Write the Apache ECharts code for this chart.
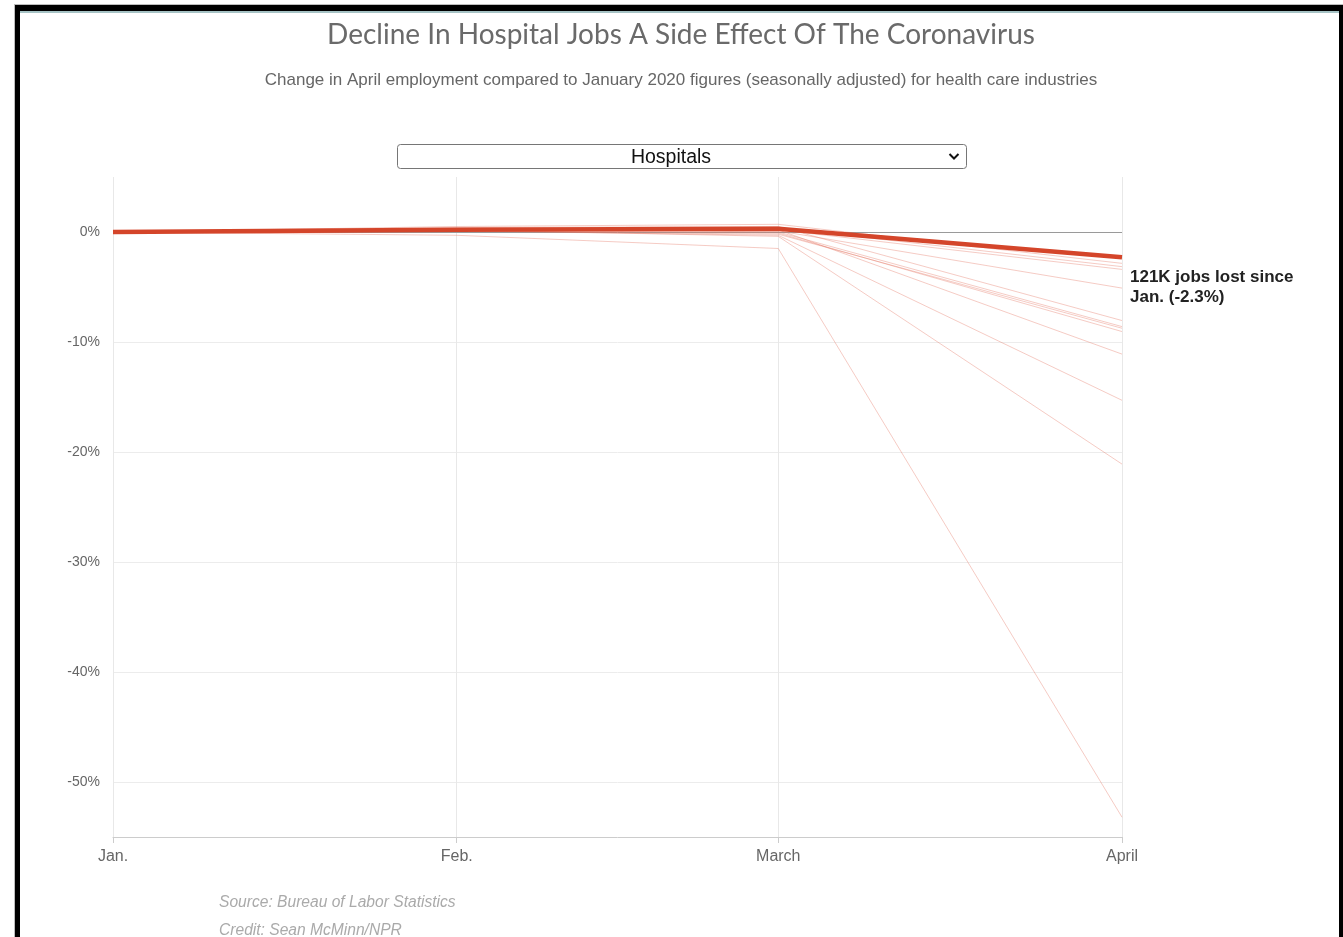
<!DOCTYPE html>
<html>
<head>
<meta charset="utf-8">
<title>Decline In Hospital Jobs A Side Effect Of The Coronavirus</title>
<script src="https://cdn.jsdelivr.net/npm/echarts@6/dist/echarts.min.js"></script>
<style>
  html, body { margin: 0; padding: 0; background: #fff; }
  #chart { position: absolute; left: 0; top: 0; width: 1343px; height: 937px; }
  .frame { position: absolute; }
</style>
</head>
<body>
<div id="chart"></div>
<!-- window frame -->
<div class="frame" style="left:14px;top:4px;width:1329px;height:1px;background:#bdbdbd"></div>
<div class="frame" style="left:14px;top:4px;width:1px;height:933px;background:#bdbdbd"></div>
<div class="frame" style="left:15px;top:5px;width:1328px;height:6px;background:#000"></div>
<div class="frame" style="left:15px;top:5px;width:5px;height:932px;background:#000"></div>
<div class="frame" style="left:1339px;top:5px;width:4px;height:932px;background:#000"></div>
<div class="frame" style="left:20px;top:11px;width:1319px;height:2px;background:#a6c3c5"></div>
<script>
// Months shown on the x axis, placed by days since Jan. 1, 2020
const monthLabels = ['Jan.', 'Feb.', 'March', 'April'];
const monthDays = [0, 31, 60, 91];

// Percent change in employment since January, hospitals
const hospitals = [0, 0.2, 0.3, -2.3];

// Percent change since January, other health care industries
const otherIndustries = [
  [0, 0.5, 0.7, -2.85],
  [0, 0.3, 0.4, -3.15],
  [0, 0.1, 0.2, -3.4],
  [0, 0.2, 0.1, -5.1],
  [0, 0.4, 0.5, -8.05],
  [0, 0.3, 0.0, -8.6],
  [0, 0.1, -0.2, -8.75],
  [0, 0.2, -0.1, -9.05],
  [0, 0.3, 0.2, -11.1],
  [0, 0.1, -0.3, -15.3],
  [0, 0.2, -0.4, -21.1],
  [0, -0.3, -1.5, -53.2]
];

// Y axis tick values (percent)
const yTicks = [0, -10, -20, -30, -40, -50];

const hospitalsLabel = '121K jobs lost since\nJan. (-2.3%)';
const selectedIndustry = 'Hospitals';

const toPoints = vals => vals.map((v, i) => [monthDays[i], v]);

const series = [];
otherIndustries.forEach((vals, idx) => {
  series.push({
    type: 'line',
    data: toPoints(vals),
    symbol: 'none',
    silent: true,
    z: 3,
    lineStyle: { color: 'rgba(228, 112, 92, 0.36)', width: 1 },
    markLine: idx === 0 ? {
      silent: true,
      symbol: 'none',
      z: 2,
      label: { show: false },
      lineStyle: { color: '#9a9a9a', width: 1, type: 'solid' },
      data: [{ yAxis: 0 }]
    } : undefined
  });
});
series.push({
  type: 'line',
  data: toPoints(hospitals),
  symbol: 'none',
  silent: true,
  z: 5,
  lineStyle: { color: '#d4452a', width: 4.5 },
  endLabel: {
    show: true,
    formatter: hospitalsLabel,
    fontFamily: 'Liberation Sans, Arial, sans-serif',
    fontWeight: 'bold',
    fontSize: 17,
    lineHeight: 20,
    color: '#222',
    align: 'left',
    verticalAlign: 'middle',
    offset: [0, 30]
  }
});

const chart = echarts.init(document.getElementById('chart'), null, { renderer: 'canvas' });
chart.setOption({
  animation: false,
  backgroundColor: 'transparent',
  grid: { left: 113, right: 221, top: 177, bottom: 100, containLabel: false },
  xAxis: {
    type: 'value',
    min: 0,
    max: 91,
    axisLine: { show: true, onZero: false, lineStyle: { color: '#cccccc', width: 1 } },
    axisTick: { show: true, customValues: monthDays, length: 6, lineStyle: { color: '#cccccc' } },
    axisLabel: {
      customValues: monthDays,
      formatter: v => monthLabels[monthDays.indexOf(v)],
      color: '#666',
      fontFamily: 'Liberation Sans, Arial, sans-serif',
      fontSize: 16,
      margin: 12
    },
    splitLine: { show: true, lineStyle: { color: '#e8e8e8', width: 1 } }
  },
  yAxis: {
    type: 'value',
    min: -55,
    max: 5,
    axisLine: { show: false },
    axisTick: { show: false, customValues: yTicks },
    axisLabel: {
      customValues: yTicks,
      formatter: v => v + '%',
      color: '#666',
      fontFamily: 'Liberation Sans, Arial, sans-serif',
      fontSize: 14,
      margin: 13
    },
    splitLine: { show: true, lineStyle: { color: '#ececec', width: 1 } }
  },
  graphic: [
    {
      type: 'text', x: 681, y: 35,
      style: {
        text: 'Decline In Hospital Jobs A Side Effect Of The Coronavirus',
        align: 'center', verticalAlign: 'middle',
        fontFamily: 'Lato, sans-serif', fontSize: 28, fill: '#6a6a6a'
      }
    },
    {
      type: 'text', x: 681, y: 80,
      style: {
        text: 'Change in April employment compared to January 2020 figures (seasonally adjusted) for health care industries',
        align: 'center', verticalAlign: 'middle',
        fontFamily: 'Liberation Sans, Arial, sans-serif', fontSize: 17, fill: '#666'
      }
    },
    {
      type: 'rect', shape: { x: 397.5, y: 144.5, width: 569, height: 24, r: 3 },
      style: { fill: '#fff', stroke: '#767676', lineWidth: 1 }
    },
    {
      type: 'text', x: 671, y: 158,
      style: {
        text: selectedIndustry, align: 'center', verticalAlign: 'middle',
        fontFamily: 'Liberation Sans, Arial, sans-serif', fontSize: 19.5, fill: '#111'
      }
    },
    {
      type: 'polyline', shape: { points: [[949.5, 154], [954, 158.5], [958.5, 154]] },
      style: { stroke: '#111', lineWidth: 2, fill: null }
    },
    {
      type: 'text', x: 219, y: 903,
      style: {
        text: 'Source: Bureau of Labor Statistics', verticalAlign: 'middle',
        fontFamily: 'Liberation Sans, Arial, sans-serif', fontStyle: 'italic', fontSize: 15.6, fill: '#aaa'
      }
    },
    {
      type: 'text', x: 219, y: 931,
      style: {
        text: 'Credit: Sean McMinn/NPR', verticalAlign: 'middle',
        fontFamily: 'Liberation Sans, Arial, sans-serif', fontStyle: 'italic', fontSize: 15.6, fill: '#aaa'
      }
    }
  ],
  series: series
});
</script>
</body>
</html>
